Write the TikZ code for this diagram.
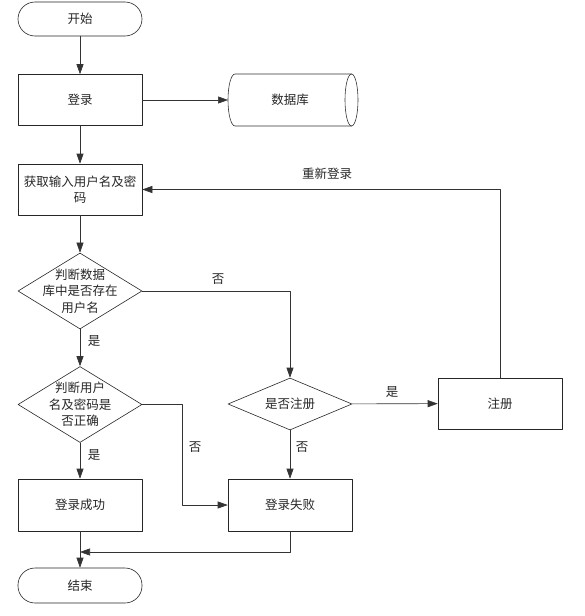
\documentclass[tikz,border=0pt]{standalone}
\usepackage{fontspec}
\newfontfamily\cjk{Noto Sans CJK SC}
\usetikzlibrary{arrows.meta}
\usetikzlibrary{shapes.geometric}

\begin{document}
\begin{tikzpicture}[line cap=round,line join=round,>={Triangle[length=10pt,width=7pt]},x=1pt,y=-1pt,
every node/.style={font=\cjk\fontsize{12.5}{16.5}\selectfont,color=black!85},
box/.style={draw,minimum width=124pt,minimum height=51pt,inner sep=0pt,align=center},
term/.style={draw,rounded corners=17pt,minimum width=124pt,minimum height=34pt,inner sep=0pt},
test/.style={draw,diamond,aspect=1.6,minimum width=124pt,minimum height=76pt,inner sep=0pt}]
\useasboundingbox (0,0) rectangle (585,616);
\tikzset{every path/.style={color=black!80,line width=0.6pt}}
\node[term] (start) at (80,19) {开始};
\node[box] (login) at (80,100) {登录};
\draw (351.5,74) -- (235,74) arc[start angle=90,end angle=270,x radius=7pt,y radius=26pt] -- (351.5,126);
\draw (351.5,100) ellipse [x radius=6.5pt,y radius=26pt];
\node (db) at (290,100) {数据库};
\coordinate (dbin) at (228,100);
\node[box] (input) at (80,189.5) {获取输入用户名及密\\码};
\node[test] (check1) at (80,291) {};
\node[align=center] (check1txt) at (check1) {判断数据\\库中是否存在\\用户名};
\node[test] (check2) at (80,404.5) {};
\node[align=center] (check2txt) at (check2) {判断用户\\名及密码是\\否正确};
\node[test,minimum height=52pt] (isreg) at (290,404) {};
\node (isregtxt) at (isreg) {是否注册};
\node[box] (reg) at (500,403.5) {注册};
\node[box,minimum height=52pt] (ok) at (80,505) {登录成功};
\node[box,minimum height=52pt] (fail) at (290,505) {登录失败};
\node[term,minimum height=35pt] (end) at (80,585.5) {结束};
\coordinate (join) at (80,552);
\draw[->] (start) -- (login);
\draw[->] (login) -- (dbin);
\draw[->] (login) -- (input);
\draw[->] (input) -- (check1);
\draw[->] (check1) -- (check2);
\draw[->] (check1.east) -| (isreg.north);
\draw[->] (check2) -- (ok);
\draw[->] (check2.east) -- ++(40,0) |- (fail.west);
\draw[->] (isreg) -- (fail);
\draw[->] (isreg) -- (reg);
\draw[->] (reg.north) |- (input.east);
\draw[->] (ok) -- (end);
\draw[->] (fail.south) |- (join);
\draw(218,279) node {否};
\draw(94,341) node {是};
\draw(195,447) node {否};
\draw(302,447) node {否};
\draw(392,392) node {是};
\draw(94,455) node {是};
\draw(327,174) node {重新登录};
\end{tikzpicture}
\end{document}
